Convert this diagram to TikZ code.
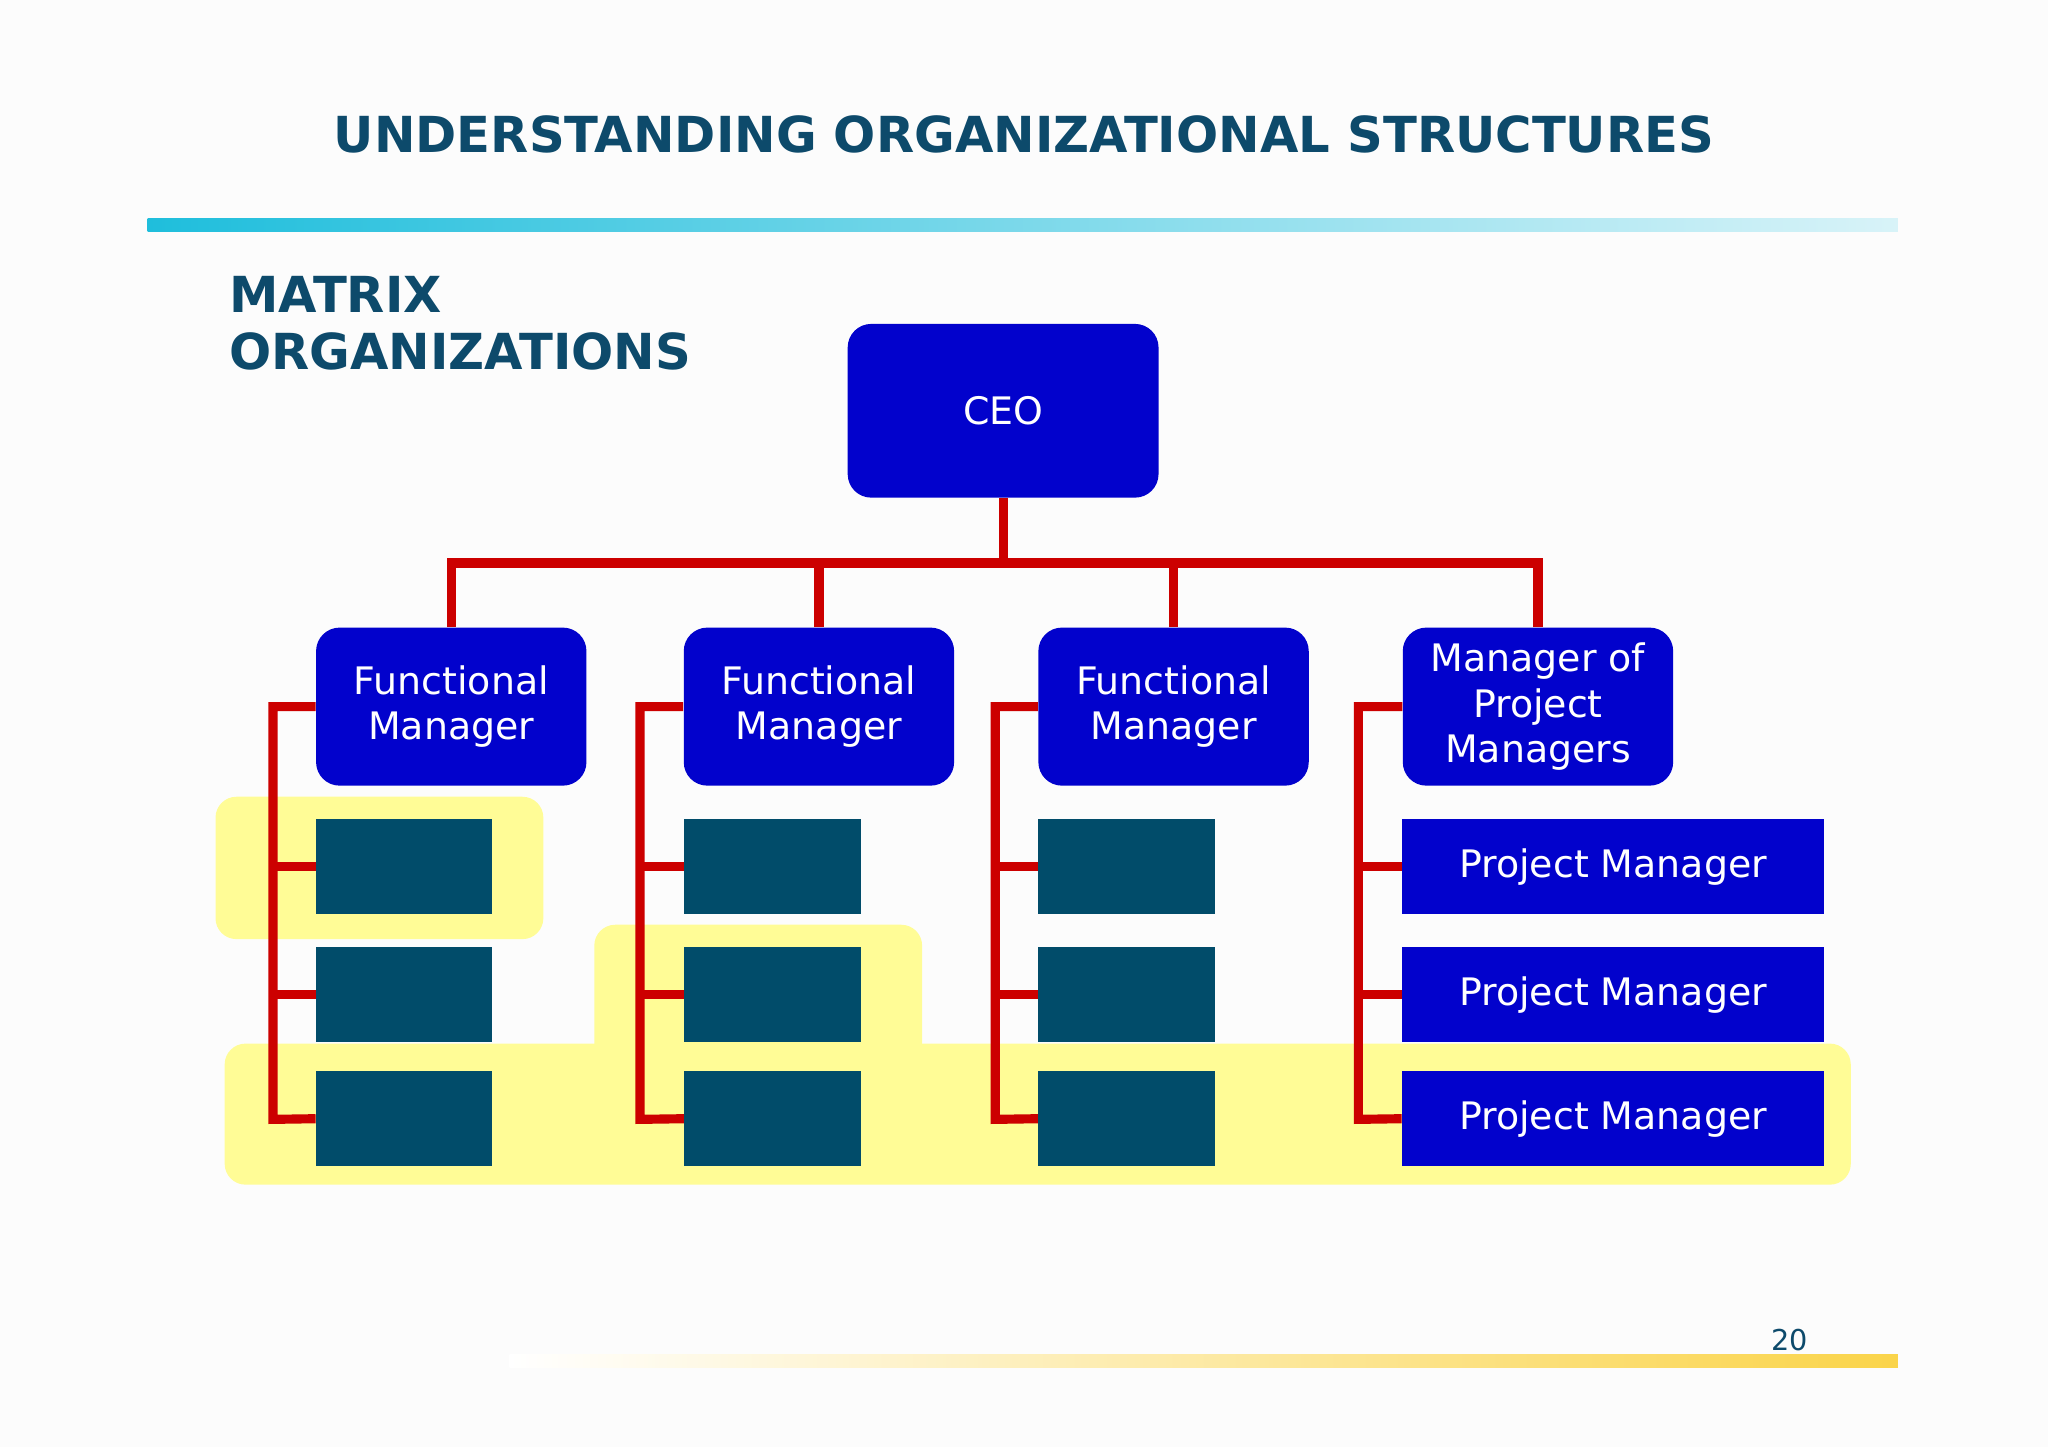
\documentclass[tikz,border=0pt]{standalone}
\usepackage{fontspec}
\setmainfont{DejaVu Sans}
\begin{document}
\begin{tikzpicture}[x=0.5pt,y=-0.5pt,
  blue box/.style={fill={rgb,255:red,2;green,2;blue,204},rounded corners=9pt,text=white,align=center,font=\fontsize{14.5}{17.5}\selectfont,inner sep=0pt},
  pm/.style={fill={rgb,255:red,2;green,2;blue,204},text=white,font=\fontsize{14.5}{17.5}\selectfont,inner sep=0pt},
  teal/.style={fill={rgb,255:red,1;green,76;blue,106},inner sep=0pt},
  hl/.style={fill={rgb,255:red,255;green,252;blue,150},rounded corners=8pt},
  link/.style={draw={rgb,255:red,204;green,0;blue,0},line width=3.5pt}]
\definecolor{ttl}{RGB}{13,74,107}
\fill[white!98!gray] (0,0) rectangle (1568,1108);
\useasboundingbox (0,0) rectangle (1568,1108);
\node[font=\bfseries\fontsize{19}{23}\selectfont,text=ttl] (title) at (784,103) {UNDERSTANDING ORGANIZATIONAL STRUCTURES};
\shade[left color={rgb,255:red,31;green,190;blue,220},right color={rgb,255:red,216;green,243;blue,248}] (113,167) rectangle (1453,177);
\shade[left color=white,right color={rgb,255:red,250;green,212;blue,74}] (390,1037) rectangle (1453,1047);
\node[font=\fontsize{11}{13}\selectfont,text=ttl] (pg) at (1370,1026) {20};
\node[font=\bfseries\fontsize{19}{22}\selectfont,text=ttl,align=left,anchor=north west,inner sep=0pt] (sub) at (175,211) {MATRIX\\ORGANIZATIONS};
% highlights
\fill[hl] (165,610) rectangle (416,719);
\fill[hl] (455,708) rectangle (706,830);
\fill[hl] (172,799) rectangle (1417,907);
% nodes
\node[blue box,minimum width=119pt,minimum height=66.5pt] (ceo) at (768,314.5) {CEO};
\foreach \n/\x in {f1/345.5,f2/627,f3/898.5}
  \node[blue box,minimum width=103.5pt,minimum height=60.5pt] (\n) at (\x,541) {Functional\\Manager};
\node[blue box,minimum width=103.5pt,minimum height=60.5pt] (f4) at (1177.5,541) {Manager of\\Project\\Managers};
\foreach \c/\x in {1/309.5,2/591.5,3/862.5}
  \foreach \r/\y in {1/663.5,2/761.5,3/856.5}
    \node[teal,minimum width=67.5pt,minimum height=36.5pt] (t\c\r) at (\x,\y) {};
\foreach \r/\y in {1/663.5,2/761.5,3/856.5}
  \node[pm,minimum width=161.5pt,minimum height=36.5pt] (p\r) at (1235,\y) {Project Manager};
% connectors
\coordinate (j) at (768,431);
\draw[link] (ceo.south) -- (j);
\draw[link] (f1.north) |- (j) (f2.north) |- (j) (f3.north) |- (j) (f4.north) |- (j);
\foreach \c/\bx in {1/209,2/490,3/762}{
  \draw[link] (f\c.west) -| (\bx,857) -- (t\c3.west);
  \draw[link] (\bx,663.5) -- (t\c1.west) (\bx,761.5) -- (t\c2.west);
}
\draw[link] (f4.west) -| (1040,857) -- (p3.west);
\draw[link] (1040,663.5) -- (p1.west) (1040,761.5) -- (p2.west);
\end{tikzpicture}
\end{document}
